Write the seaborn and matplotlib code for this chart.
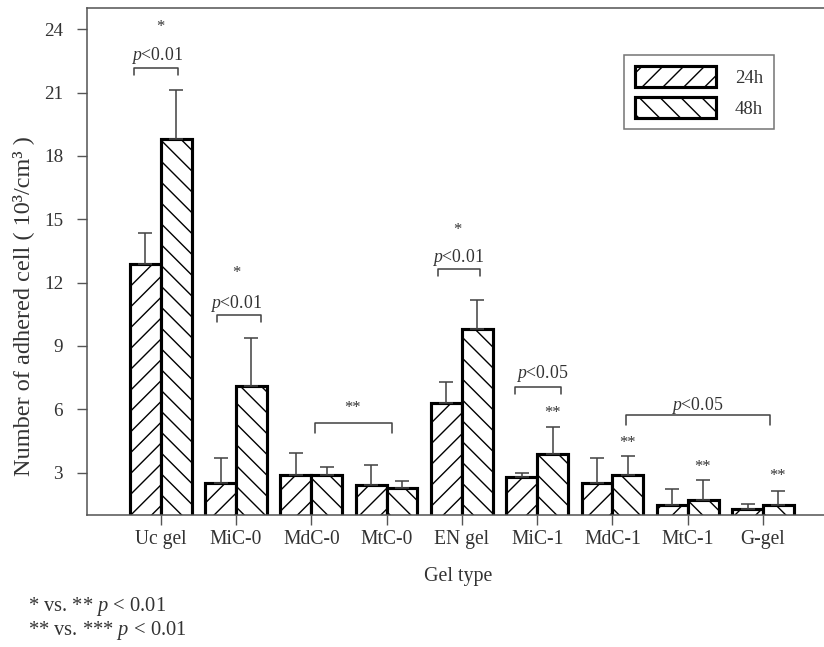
import numpy as np
import pandas as pd
import seaborn as sns
import matplotlib.pyplot as plt
from matplotlib.patches import Patch

# ---- data -----------------------------------------------------------------
gels = ["Uc gel", "MiC-0", "MdC-0", "MtC-0", "EN gel", "MiC-1", "MdC-1", "MtC-1", "G-gel"]
times = ["24h", "48h"]
mean_24h = [12.9, 2.5, 2.9, 2.4, 6.3, 2.8, 2.5, 1.45, 1.3]
mean_48h = [18.8, 7.1, 2.9, 2.3, 9.8, 3.9, 2.9, 1.7, 1.45]
sd_24h = [1.45, 1.2, 1.05, 0.95, 1.0, 0.2, 1.2, 0.8, 0.2]
sd_48h = [2.3, 2.3, 0.35, 0.3, 1.4, 1.25, 0.9, 0.95, 0.7]
y_ticks = [3, 6, 9, 12, 15, 18, 21, 24]

# ---- style ----------------------------------------------------------------
sns.set_style("ticks")
plt.rcParams["font.family"] = ["Liberation Serif", "DejaVu Serif"]
plt.rcParams["mathtext.fontset"] = "custom"
plt.rcParams["mathtext.rm"] = "Liberation Serif"
plt.rcParams["mathtext.it"] = "Liberation Serif:italic"
plt.rcParams["hatch.linewidth"] = 0.8
plt.rcParams["hatch.color"] = "black"

TXT = "#333333"
AX = "#555555"
DPI = 125

fig = plt.figure(figsize=(824 / DPI, 647 / DPI), dpi=DPI)
ax = fig.add_axes([87 / 824, 1 - 515 / 647, 737 / 824, 507 / 647])

df = pd.DataFrame({
    "gel": gels * 2,
    "time": ["24h"] * len(gels) + ["48h"] * len(gels),
    "count": mean_24h + mean_48h,
})

sns.barplot(data=df, x="gel", y="count", hue="time", order=gels, hue_order=times,
            errorbar=None, width=0.82, gap=0, palette=["white", "white"],
            edgecolor="black", linewidth=1.8, legend=False, ax=ax)

hatches = ["//", "\\\\"]
for cont, hatch, sds in zip(ax.containers, hatches, [sd_24h, sd_48h]):
    for bar, sd in zip(cont, sds):
        bar.set_hatch(hatch)
        bar.set_facecolor("white")
        bar.set_edgecolor("black")
        x = bar.get_x() + bar.get_width() / 2
        h = bar.get_height()
        ax.errorbar(x, h, yerr=[[0], [sd]], fmt="none", ecolor="#444444",
                    elinewidth=0.9, capsize=3.8, capthick=0.9, zorder=1)

ax.set_xlim(-0.98, 8.81)
ax.set_ylim(1, 25)
ax.set_yticks(y_ticks)
ax.set_xlabel("")
ax.set_ylabel("")

ax.tick_params(axis="y", direction="out", length=5.8, width=0.8, pad=8,
               labelsize=11, colors=AX, labelcolor=TXT)
ax.tick_params(axis="x", direction="out", length=5.8, width=0.8, pad=3,
               labelsize=11.3, colors=AX, labelcolor=TXT)
ax.spines["right"].set_visible(False)
for s in ["top", "left", "bottom"]:
    ax.spines[s].set_color(AX)
    ax.spines[s].set_linewidth(0.9)

# ---- significance brackets -------------------------------------------------
def bracket(x0, x1, y, leg, lw=0.9):
    ax.plot([x0, x0, x1, x1], [y - leg, y, y, y - leg], color="#444444",
            lw=lw, clip_on=False)

def note(x, y, s, size=10.2):
    ax.text(x, y, s, ha="center", va="center", fontsize=size, color=TXT)

# Uc gel
bracket(-0.35, 0.23, 22.15, 0.33)
note(-0.05, 22.75, r"$p$<0.01")
note(0.0, 24.1, "*", 9.5)
# MiC-0
bracket(0.745, 1.33, 10.47, 0.33)
note(1.0, 11.0, r"$p$<0.01")
note(1.0, 12.45, "*", 9.5)
# MdC-0 vs MtC-0
bracket(2.05, 3.07, 5.35, 0.47)
note(2.55, 6.05, "**", 9.5)
# EN gel
bracket(3.68, 4.24, 12.64, 0.33)
note(3.95, 13.2, r"$p$<0.01")
note(3.94, 14.5, "*", 9.5)
# MiC-1
bracket(4.71, 5.31, 7.04, 0.33)
note(5.07, 7.7, r"$p$<0.05")
# MdC-1 .. G-gel
bracket(6.18, 8.09, 5.73, 0.47)
note(7.13, 6.2, r"$p$<0.05")
# double stars over 48h bars
for xs, ys in [(5.2, 5.83), (6.2, 4.4), (7.19, 3.27), (8.19, 2.86)]:
    note(xs, ys, "**", 9.5)

# ---- legend -----------------------------------------------------------------
handles = [Patch(facecolor="white", edgecolor="black", hatch=h, linewidth=1.8, label=t)
           for h, t in zip(hatches, times)]
leg = ax.legend(handles=handles, loc="upper left",
                bbox_to_anchor=(624 / 824, 1 - 55 / 647), bbox_transform=fig.transFigure,
                borderaxespad=0, fontsize=10.8, handlelength=4.3, handleheight=1.33,
                handletextpad=1.0, borderpad=0.6, labelspacing=0.53,
                fancybox=False, frameon=True)
leg.get_frame().set_edgecolor(AX)
leg.get_frame().set_linewidth(0.9)
for t in leg.get_texts():
    t.set_color(TXT)

# ---- axis titles and footnotes --------------------------------------------------
fig.text(458 / 824, 1 - 577 / 647, "Gel type", ha="center", va="center",
         fontsize=11.5, color=TXT)
fig.text(23 / 824, 1 - 306 / 647, "Number of adhered cell ( 10³/cm³ )", rotation=90,
         ha="center", va="center", fontsize=14, color=TXT)
fig.text(28 / 824, 1 - 607 / 647, r"* vs. ** $p$ < 0.01", ha="left", va="center",
         fontsize=11.8, color=TXT)
fig.text(28 / 824, 1 - 630 / 647, r"** vs. *** $p$ < 0.01", ha="left", va="center",
         fontsize=11.8, color=TXT)

fig.savefig("out.png", dpi=DPI)
